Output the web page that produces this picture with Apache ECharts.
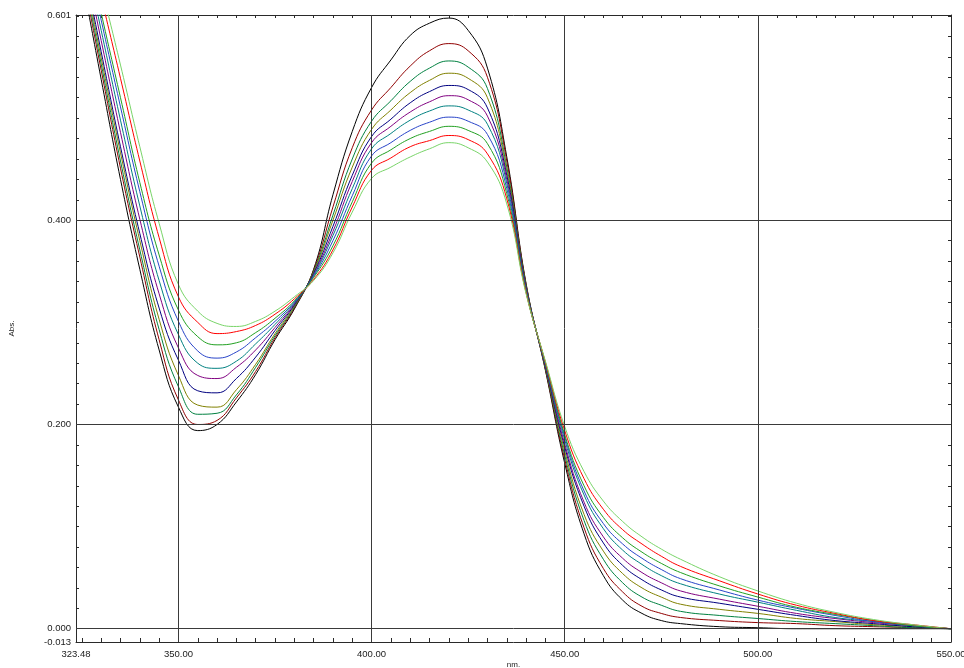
<!DOCTYPE html>
<html>
<head>
<meta charset="utf-8">
<script src="https://cdn.jsdelivr.net/npm/echarts@6/dist/echarts.min.js"></script>
<style>
  html, body { margin: 0; padding: 0; background: #ffffff; }
  #chart { width: 964px; height: 668px; }
</style>
</head>
<body>
<div id="chart"></div>
<script>
// Wavelength grid (nm) shared by every scan
const wavelengths = [323.48, 325, 330, 335, 340, 345, 350, 355, 360, 365, 370, 375, 380, 385, 390, 395,
  400, 405, 410, 415, 420, 425, 430, 435, 440, 445, 450, 455, 460, 465, 470, 475, 480, 490, 500, 510,
  520, 530, 540, 550];

// Absorbance of each scan at the wavelengths above
const scan1 = [0.668, 0.638, 0.538, 0.440, 0.352, 0.273, 0.217, 0.194, 0.200, 0.222, 0.249, 0.283, 0.313, 0.352, 0.425, 0.487, 0.530, 0.557, 0.581, 0.593, 0.598, 0.586, 0.549, 0.462, 0.338, 0.253, 0.162, 0.093, 0.052, 0.028, 0.015, 0.008, 0.005, 0.002, 0.001, 0.000, 0.000, 0.000, 0.000, 0.000];
const scan2 = [0.675, 0.645, 0.547, 0.451, 0.364, 0.283, 0.224, 0.200, 0.204, 0.226, 0.252, 0.285, 0.314, 0.351, 0.413, 0.471, 0.508, 0.530, 0.551, 0.566, 0.573, 0.566, 0.540, 0.458, 0.337, 0.254, 0.166, 0.099, 0.059, 0.036, 0.022, 0.015, 0.011, 0.008, 0.006, 0.005, 0.003, 0.002, 0.001, 0.000];
const scan3 = [0.679, 0.650, 0.553, 0.458, 0.371, 0.293, 0.237, 0.210, 0.211, 0.229, 0.256, 0.287, 0.315, 0.350, 0.405, 0.460, 0.497, 0.517, 0.536, 0.549, 0.556, 0.550, 0.529, 0.452, 0.336, 0.255, 0.170, 0.106, 0.068, 0.045, 0.031, 0.023, 0.017, 0.013, 0.010, 0.007, 0.005, 0.003, 0.001, 0.000];
const scan4 = [0.683, 0.655, 0.559, 0.466, 0.380, 0.303, 0.248, 0.219, 0.217, 0.234, 0.259, 0.289, 0.316, 0.349, 0.400, 0.452, 0.489, 0.508, 0.525, 0.537, 0.544, 0.539, 0.520, 0.448, 0.335, 0.256, 0.174, 0.112, 0.076, 0.054, 0.040, 0.031, 0.024, 0.019, 0.015, 0.010, 0.007, 0.004, 0.002, 0.000];
const scan5 = [0.687, 0.659, 0.565, 0.472, 0.387, 0.314, 0.263, 0.233, 0.231, 0.245, 0.266, 0.292, 0.317, 0.348, 0.394, 0.444, 0.482, 0.499, 0.515, 0.526, 0.532, 0.528, 0.510, 0.444, 0.334, 0.257, 0.178, 0.120, 0.084, 0.062, 0.048, 0.038, 0.031, 0.025, 0.019, 0.013, 0.008, 0.005, 0.002, 0.000];
const scan6 = [0.695, 0.668, 0.576, 0.486, 0.401, 0.328, 0.275, 0.248, 0.245, 0.256, 0.273, 0.295, 0.318, 0.347, 0.389, 0.438, 0.476, 0.492, 0.506, 0.516, 0.522, 0.518, 0.502, 0.440, 0.333, 0.258, 0.181, 0.124, 0.090, 0.069, 0.055, 0.045, 0.037, 0.029, 0.022, 0.015, 0.010, 0.006, 0.003, 0.000];
const scan7 = [0.703, 0.675, 0.586, 0.498, 0.414, 0.341, 0.288, 0.260, 0.255, 0.262, 0.279, 0.298, 0.319, 0.346, 0.385, 0.431, 0.470, 0.485, 0.498, 0.507, 0.512, 0.508, 0.494, 0.436, 0.332, 0.259, 0.185, 0.131, 0.098, 0.077, 0.063, 0.052, 0.044, 0.034, 0.026, 0.018, 0.011, 0.007, 0.003, 0.000];
const scan8 = [0.710, 0.683, 0.596, 0.511, 0.428, 0.355, 0.301, 0.272, 0.265, 0.271, 0.285, 0.301, 0.320, 0.345, 0.380, 0.424, 0.463, 0.476, 0.488, 0.496, 0.501, 0.497, 0.484, 0.431, 0.331, 0.259, 0.188, 0.135, 0.103, 0.083, 0.069, 0.058, 0.049, 0.038, 0.028, 0.020, 0.013, 0.007, 0.003, 0.000];
const scan9 = [0.716, 0.689, 0.603, 0.520, 0.437, 0.366, 0.312, 0.286, 0.278, 0.280, 0.290, 0.304, 0.321, 0.344, 0.375, 0.418, 0.456, 0.469, 0.480, 0.487, 0.492, 0.488, 0.475, 0.426, 0.330, 0.260, 0.190, 0.140, 0.109, 0.089, 0.075, 0.064, 0.055, 0.042, 0.031, 0.021, 0.014, 0.008, 0.003, 0.000];
const scan10 = [0.727, 0.701, 0.619, 0.539, 0.458, 0.383, 0.325, 0.300, 0.289, 0.291, 0.297, 0.308, 0.323, 0.342, 0.371, 0.413, 0.449, 0.461, 0.472, 0.478, 0.483, 0.479, 0.465, 0.421, 0.329, 0.261, 0.194, 0.147, 0.117, 0.097, 0.083, 0.071, 0.061, 0.047, 0.034, 0.023, 0.015, 0.008, 0.004, 0.000];
const scan11 = [0.735, 0.710, 0.630, 0.552, 0.472, 0.397, 0.337, 0.311, 0.299, 0.296, 0.301, 0.311, 0.325, 0.341, 0.368, 0.408, 0.441, 0.452, 0.462, 0.470, 0.476, 0.471, 0.457, 0.416, 0.328, 0.262, 0.198, 0.154, 0.125, 0.105, 0.090, 0.078, 0.068, 0.051, 0.037, 0.025, 0.016, 0.009, 0.004, 0.000];

const scans = [scan1, scan2, scan3, scan4, scan5, scan6, scan7, scan8, scan9, scan10, scan11];
const scanColors = ['#000000', '#900000', '#008040', '#808000', '#000080', '#800080',
  '#008080', '#2844c8', '#22a022', '#ff0000', '#78d468'];

// Axis labels and grid positions
const xLabelValues = [323.48, 350, 400, 450, 500, 550];
const yLabelValues = [-0.013, 0, 0.2, 0.4, 0.601];
const xGridValues = [350, 400, 450, 500];
const yGridValues = [0, 0.2, 0.4];
const X_MIN = 323.48, X_MAX = 550, Y_MIN = -0.013, Y_MAX = 0.601;

// Minor ticks: every 5 nm and every 0.02 Abs
const xMinorTicks = [];
for (let v = 325; v < X_MAX; v += 5) xMinorTicks.push(v);
const yMinorTicks = [];
for (let i = 0; i <= 30; i++) yMinorTicks.push(+(i * 0.02).toFixed(2));

const FONT = 'Liberation Sans, Arial, Helvetica, sans-serif';
const frameLine = { show: true, onZero: false, lineStyle: { color: '#2a2a2a', width: 1 } };
const tickStyle = { color: '#2a2a2a', width: 1 };

const chart = echarts.init(document.getElementById('chart'), null, { renderer: 'canvas' });

const lineSeries = scans.map((values, k) => ({
  name: 'Scan ' + (k + 1),
  type: 'line',
  xAxisIndex: 0,
  yAxisIndex: 0,
  data: wavelengths.map((w, i) => [w, values[i]]),
  showSymbol: false,
  symbol: 'none',
  smooth: 0.45,
  clip: true,
  z: 3,
  lineStyle: { color: scanColors[k], width: 1 },
  itemStyle: { color: scanColors[k] },
  emphasis: { disabled: true }
}));

const gridSeries = {
  name: 'grid',
  type: 'line',
  data: [],
  silent: true,
  z: 1,
  markLine: {
    silent: true,
    animation: false,
    symbol: ['none', 'none'],
    label: { show: false },
    emphasis: { disabled: true },
    lineStyle: { color: '#3a3a3a', width: 1, type: 'solid' },
    data: [
      ...xGridValues.map(v => ({ xAxis: v })),
      ...yGridValues.map(v => ({ yAxis: v }))
    ]
  }
};

chart.setOption({
  animation: false,
  backgroundColor: '#ffffff',
  grid: { left: 76, top: 15, right: 13, bottom: 26, containLabel: false, outerBoundsMode: 'none' },
  xAxis: [
    {
      type: 'value', min: X_MIN, max: X_MAX, position: 'bottom',
      axisLine: frameLine,
      axisTick: { show: true, inside: true, length: 4, customValues: xMinorTicks, lineStyle: tickStyle },
      axisLabel: {
        show: true, customValues: xLabelValues, margin: 7,
        formatter: v => v.toFixed(2),
        fontFamily: FONT, fontSize: 9.5, color: '#1a1a1a'
      },
      splitLine: { show: false },
      name: 'nm.', nameLocation: 'middle', nameGap: 19, nameMoveOverlap: false,
      nameTextStyle: { fontFamily: FONT, fontSize: 8, color: '#222222' }
    },
    {
      type: 'value', min: X_MIN, max: X_MAX, position: 'top',
      axisLine: frameLine,
      axisTick: { show: true, inside: true, length: 3, customValues: xMinorTicks, lineStyle: tickStyle },
      axisLabel: { show: false },
      splitLine: { show: false }
    }
  ],
  yAxis: [
    {
      type: 'value', min: Y_MIN, max: Y_MAX, position: 'left',
      axisLine: frameLine,
      axisTick: { show: true, inside: true, length: 3, customValues: yMinorTicks, lineStyle: tickStyle },
      axisLabel: {
        show: true, customValues: yLabelValues, margin: 5,
        formatter: v => v.toFixed(3),
        fontFamily: FONT, fontSize: 9.5, color: '#1a1a1a'
      },
      splitLine: { show: false },
      name: 'Abs.', nameLocation: 'middle', nameGap: 60, nameRotate: 90, nameMoveOverlap: false,
      nameTextStyle: { fontFamily: FONT, fontSize: 8, color: '#222222' }
    },
    {
      type: 'value', min: Y_MIN, max: Y_MAX, position: 'right',
      axisLine: frameLine,
      axisTick: { show: true, inside: true, length: 3, customValues: yMinorTicks, lineStyle: tickStyle },
      axisLabel: { show: false },
      splitLine: { show: false }
    }
  ],
  series: [gridSeries, ...lineSeries]
});
</script>
</body>
</html>
